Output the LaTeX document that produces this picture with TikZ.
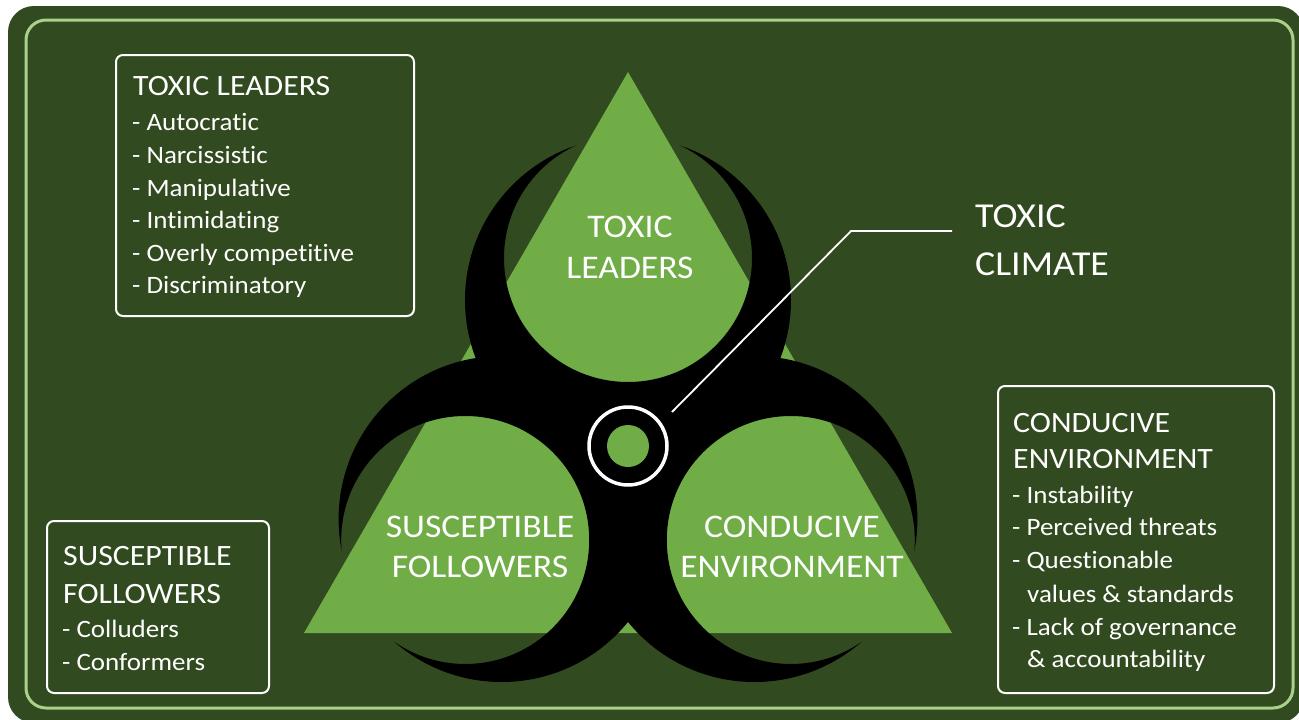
\documentclass[tikz,border=0pt]{standalone}
\usepackage{fontspec}
\setmainfont{Carlito}[FakeStretch=1.08, Ligatures=NoCommon]
\definecolor{bg}{RGB}{50,74,31}
\definecolor{tri}{RGB}{112,173,71}
\definecolor{rim}{RGB}{169,209,142}
\begin{document}
\begin{tikzpicture}[x=1pt,y=-1pt,
  boxstyle/.style={draw=white, line width=2pt, rounded corners=7pt, fill=bg, inner sep=0pt, anchor=north west},
  headtxt/.style={anchor=base west, text=white, inner sep=0pt, font=\fontsize{29.5}{30}\selectfont},
  itemtxt/.style={anchor=base west, text=white, inner sep=0pt, font=\fontsize{25}{26}\selectfont},
  lobetxt/.style={anchor=base, text=white, inner sep=0pt, font=\fontsize{33}{34}\selectfont},
  climtxt/.style={anchor=base west, text=white, inner sep=0pt, font=\fontsize{35}{36}\selectfont},
  leader/.style={white, line width=1.8pt},
  crescent/.style={fill=black, even odd rule},
]
\useasboundingbox (0,0) rectangle (1299,720);
\fill[white] (0,0) rectangle (1299,720);
% frame
\fill[bg, rounded corners=26pt] (8,6) rectangle (1304,723);
\draw[rim, line width=3pt, rounded corners=20pt] (26,20) rectangle (1293,708);

% text boxes
\node[boxstyle, minimum width=298pt, minimum height=261pt] (boxTL) at (115,54) {};
\node[boxstyle, minimum width=222pt, minimum height=172pt] (boxBL) at (46,520) {};
\node[boxstyle, minimum width=276pt, minimum height=307pt] (boxR) at (997,385) {};

% biohazard
\fill[tri] (628,72) -- (304,633) -- (952,633) -- cycle;
\foreach \ox/\oy/\hx/\hy in {628/300/628/258, 501.6/519/465.2/540, 754.4/519/790.8/540} {
  \begin{scope}
    \clip (\ox,\oy) circle[radius=163];
    \fill[crescent] (\ox-200,\oy-200) rectangle (\ox+200,\oy+200) (\hx,\hy) circle[radius=124];
  \end{scope}
}
\fill[tri] (628,446) circle[radius=21];
\node[circle, draw=white, line width=3.5pt, minimum size=78pt, inner sep=0pt] (ring) at (628,446) {};

% leader line
\coordinate (lineStart) at (672,412);
\coordinate (elbow) at (851,231);
\coordinate (lineEnd) at (952,231);
\draw[leader] (lineStart) -- (elbow) -- (lineEnd);
\node[climtxt] (clim1) at (975,227) {TOXIC};
\node[climtxt] (clim2) at (975,275) {CLIMATE};

% lobe labels
\node[lobetxt] (lobeT1) at (630,237) {TOXIC};
\node[lobetxt] (lobeT2) at (630,278) {LEADERS};
\node[lobetxt] (lobeL1) at (480,537) {SUSCEPTIBLE};
\node[lobetxt] (lobeL2) at (480,577) {FOLLOWERS};
\node[lobetxt] (lobeR1) at (792,537) {CONDUCIVE};
\node[lobetxt] (lobeR2) at (792,577) {ENVIRONMENT};

% top-left box text
\node[headtxt] (tlh) at (133,95) {TOXIC LEADERS};
\node[itemtxt] (tl1) at (132,130) {- Autocratic};
\node[itemtxt] (tl2) at (132,163) {- Narcissistic};
\node[itemtxt] (tl3) at (132,196) {- Manipulative};
\node[itemtxt] (tl4) at (132,228) {- Intimidating};
\node[itemtxt] (tl5) at (132,261) {- Overly competitive};
\node[itemtxt] (tl6) at (132,293) {- Discriminatory};

% bottom-left box text
\node[headtxt] (blh1) at (63,565) {SUSCEPTIBLE};
\node[headtxt] (blh2) at (63,603) {FOLLOWERS};
\node[itemtxt] (bl1) at (62,637) {- Colluders};
\node[itemtxt] (bl2) at (62,670) {- Conformers};

% right box text
\node[headtxt] (rh1) at (1013,432) {CONDUCIVE};
\node[headtxt] (rh2) at (1013,468) {ENVIRONMENT};
\node[itemtxt] (r1) at (1012,503) {- Instability};
\node[itemtxt] (r2) at (1012,535) {- Perceived threats};
\node[itemtxt] (r3) at (1012,568) {- Questionable};
\node[itemtxt] (r4) at (1027,602) {values \& standards};
\node[itemtxt] (r5) at (1012,635) {- Lack of governance};
\node[itemtxt] (r6) at (1027,667) {\& accountability};
\end{tikzpicture}
\end{document}
